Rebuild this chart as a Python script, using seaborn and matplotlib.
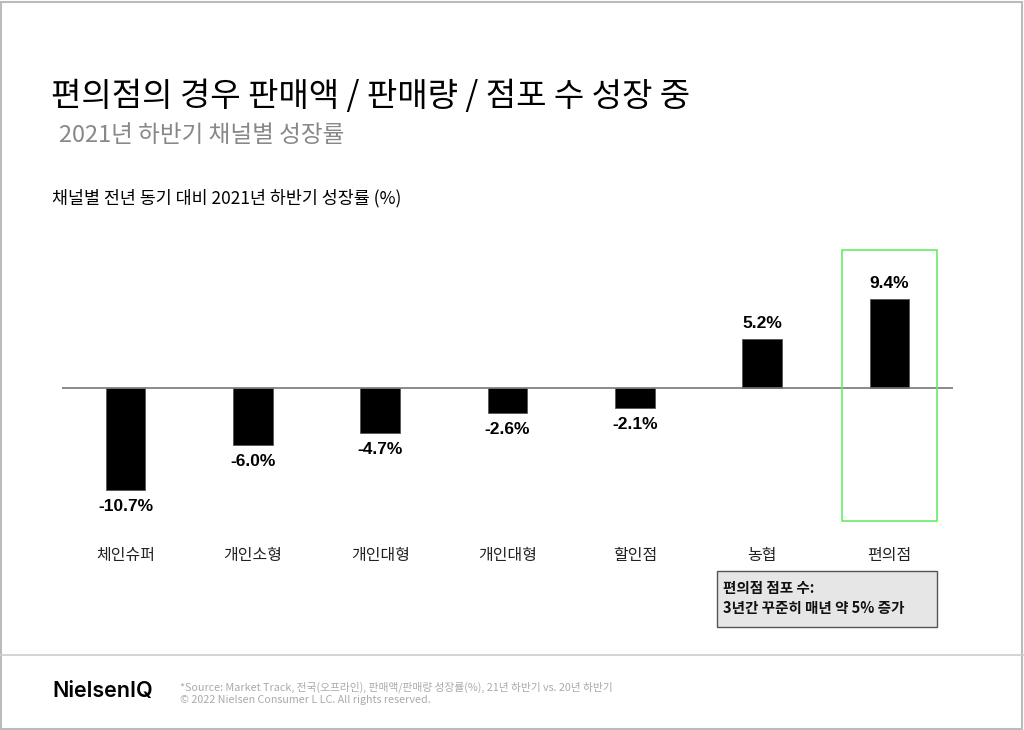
import matplotlib
matplotlib.use("Agg")
import matplotlib.pyplot as plt
import seaborn as sns
import pandas as pd
from matplotlib.patches import Rectangle

sns.set_theme(style="white")
plt.rcParams['font.family'] = ['Noto Sans CJK KR', 'DejaVu Sans']

categories = ["체인슈퍼", "개인소형", "개인대형", "개인대형", "할인점", "농협", "편의점"]
growth = [-10.7, -6.0, -4.7, -2.6, -2.1, 5.2, 9.4]
value_labels = ["-10.7%", "-6.0%", "-4.7%", "-2.6%", "-2.1%", "5.2%", "9.4%"]

title = "편의점의 경우 판매액 / 판매량 / 점포 수 성장 중"
subtitle = "2021년 하반기 채널별 성장률"
chart_label = "채널별 전년 동기 대비 2021년 하반기 성장률 (%)"
note = "편의점 점포 수:\n3년간 꾸준히 매년 약 5% 증가"
brand = "NielsenIQ"
source = "*Source: Market Track, 전국(오프라인), 판매액/판매량 성장률(%), 21년 하반기 vs. 20년 하반기\n© 2022 Nielsen Consumer L LC. All rights reserved."

W, H = 1024, 730
fig = plt.figure(figsize=(W / 100, H / 100), dpi=100)
fig.patch.set_facecolor("white")

# axes placement (pixels)
ax_l, ax_r, ax_t, ax_b = 62, 953, 240, 530
ax = fig.add_axes([ax_l / W, 1 - ax_b / H, (ax_r - ax_l) / W, (ax_b - ax_t) / H])

df = pd.DataFrame({"idx": list(range(len(categories))), "growth": growth})
sns.barplot(data=df, x="idx", y="growth", color="black", width=0.31,
            edgecolor="#555555", linewidth=0.6, ax=ax, saturation=1)

ax.set_xlim(-0.5, 6.5)
ax.set_ylim(-14.95, 15.58)
ax.axhline(0, color="#777777", lw=1.2, zorder=3)
for s in ax.spines.values():
    s.set_visible(False)
ax.set_yticks([])
ax.set_xticks(range(len(categories)))
ax.set_xticklabels(categories, fontsize=11.5, color="#222222")
ax.tick_params(axis="x", length=0, pad=12)
ax.set_xlabel("")
ax.set_ylabel("")
ax.patch.set_alpha(0)

for i, (v, lab) in enumerate(zip(growth, value_labels)):
    off = 11 if v > 0 else -12
    ax.annotate(lab, (i, v), xytext=(0, off), textcoords="offset points",
                ha="center", va="center", fontsize=12.5, fontweight="bold",
                family=["Liberation Sans", "DejaVu Sans"], color="black")

# highlight rectangle around 편의점
ax.add_patch(Rectangle((6 - 0.373, -14.0), 0.746, 28.5, fill=False,
                       edgecolor="#66ee66", lw=1.2, clip_on=False, zorder=4))

# note box
fig.patches.append(Rectangle((717 / W, 1 - 627 / H), 220 / W, 56 / H,
                             transform=fig.transFigure, facecolor="#e6e6e6",
                             edgecolor="#555555", lw=1.0))
fig.text(723 / W, 1 - 598 / H, note, fontsize=10.5, fontweight="bold",
         va="center", ha="left", color="#111111", linespacing=1.3)

# titles
fig.text(51 / W, 1 - 96 / H, title, fontsize=23.8, fontweight="medium",
         va="center", ha="left", color="black")
fig.text(59 / W, 1 - 135 / H, subtitle, fontsize=17, fontweight="light",
         va="center", ha="left", color="#888888")
fig.text(52 / W, 1 - 198 / H, chart_label, fontsize=12.5, fontweight="medium",
         va="center", ha="left", color="black")

# footer
fig.add_artist(plt.Line2D([0, 1], [1 - 655 / H] * 2, transform=fig.transFigure,
                          color="#cccccc", lw=1.2))
fig.text(52 / W, 1 - 691 / H, brand, fontsize=15.5, fontweight="semibold",
         family=["Inter", "DejaVu Sans"], va="center", ha="left", color="black")
fig.text(180 / W, 1 - 693 / H, source, fontsize=7.75, va="center", ha="left",
         color="#aaaaaa", linespacing=1.2)

# outer border
fig.patches.append(Rectangle((1 / W, 1 / H), (W - 3) / W, (H - 3) / H,
                             transform=fig.transFigure, fill=False,
                             edgecolor="#bbbbbb", lw=1.5))

fig.savefig("out.png", dpi=100, facecolor="white")
